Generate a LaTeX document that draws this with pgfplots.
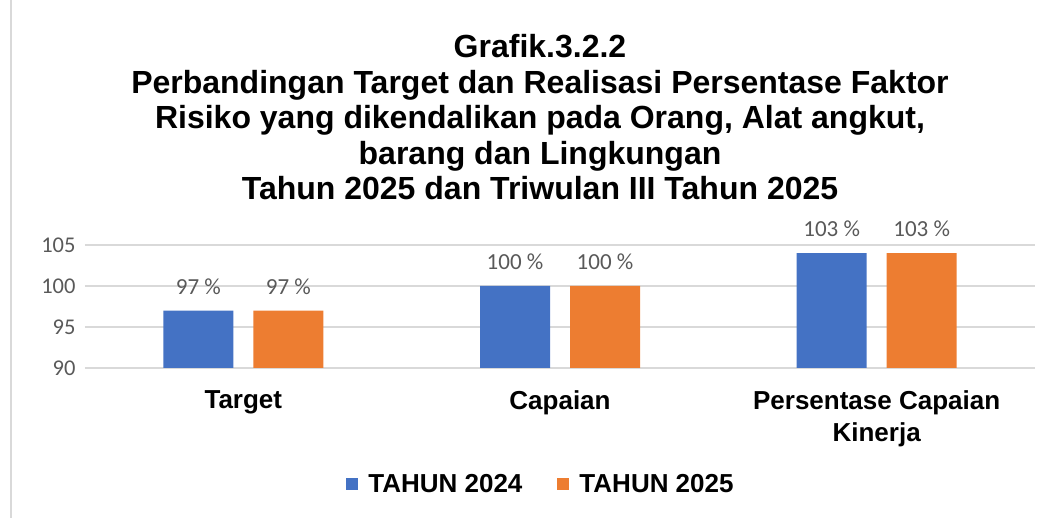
\documentclass[border=0pt]{standalone}
\usepackage{fontspec}
\setmainfont{Liberation Sans}
\newfontfamily\calib{Carlito}
\usepackage{pgfplots}
\pgfplotsset{compat=1.18}
\definecolor{cblue}{RGB}{68,114,196}
\definecolor{corange}{RGB}{237,125,49}
\definecolor{tgray}{RGB}{89,89,89}
\definecolor{ggray}{RGB}{217,217,217}
\begin{document}
\begin{tikzpicture}[x=1pt,y=1pt]
\useasboundingbox (0,0) rectangle (1052,518);
\draw[ggray, line width=1.5pt] (11,0) -- (11,518);
\begin{scope}[every node/.style={font=\bfseries\fontsize{32}{35}\selectfont, anchor=base, inner sep=0pt}]
\node at (540,460) {Grafik.3.2.2};
\node at (540,424.5) {Perbandingan Target dan Realisasi Persentase Faktor};
\node at (540,389) {Risiko yang dikendalikan pada Orang, Alat angkut,};
\node at (540,353.5) {barang dan Lingkungan};
\node at (540,318) {Tahun 2025 dan Triwulan III Tahun 2025};
\end{scope}
\begin{axis}[
  at={(85pt,150pt)}, anchor=south west,
  scale only axis, width=950pt, height=123pt,
  ymin=90, ymax=105, xmin=-0.5, xmax=2.5,
  ytick={90,95,100,105}, xtick={0,1,2},
  xticklabels={Target, Capaian, {Persentase Capaian\\Kinerja}},
  ymajorgrids, grid style={ggray, line width=1.2pt},
  axis line style={draw=none}, major tick length=0pt,
  ybar=20pt, bar width=70pt,
  legend image code/.code={\fill[#1] (0pt,-6pt) rectangle (12pt,6pt);},
  clip=false,
  /pgf/number format/assume math mode=true,
  yticklabel style={font=\calib\fontsize{22.5}{22.5}\selectfont, text=tgray, xshift=-6pt},
  xticklabel style={font=\bfseries\fontsize{26}{32}\selectfont, align=center, text=black, yshift=-19pt},
  nodes near coords={\pgfplotspointmeta},
  point meta=explicit symbolic,
  nodes near coords style={font=\calib\fontsize{23}{23}\selectfont, text=tgray, anchor=center, yshift=24pt},
  legend columns=2,
  legend style={at={(0.48,-0.943)}, anchor=center, draw=none, fill=none,
    font=\bfseries\fontsize{26}{30}\selectfont,
    /tikz/every odd column/.append style={column sep=8pt},
    /tikz/every even column/.append style={column sep=33pt}},
]
\addplot[fill=cblue, draw=none] coordinates {(0,97) [97 \%] (1,100) [100 \%] (2,104) [103 \%]};
\addplot[fill=corange, draw=none] coordinates {(0,97) [97 \%] (1,100) [100 \%] (2,104) [103 \%]};
\legend{TAHUN 2024, TAHUN 2025}
\end{axis}
\end{tikzpicture}
\end{document}
